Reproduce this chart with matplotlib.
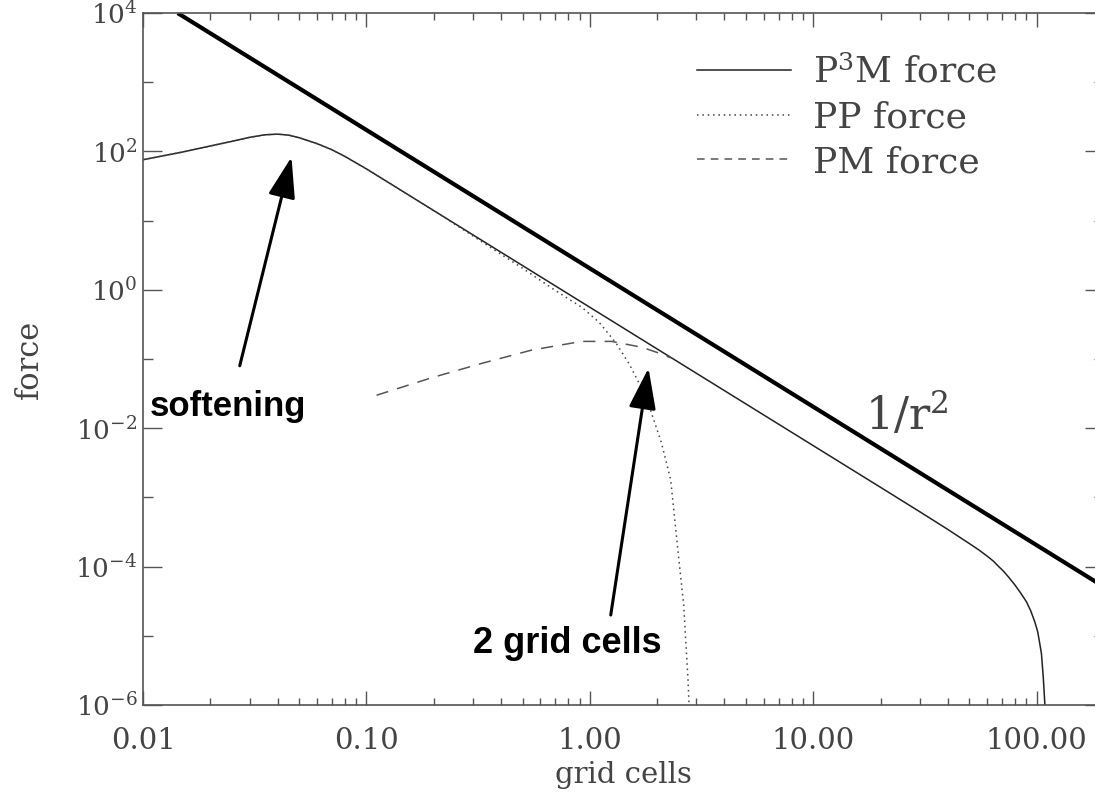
import matplotlib.pyplot as plt
from matplotlib.lines import Line2D
from matplotlib.ticker import FixedLocator, NullFormatter

plt.rcParams['font.family'] = 'DejaVu Serif'
plt.rcParams['mathtext.fontset'] = 'dejavuserif'

# pure 1/r^2 law
r_inv = [0.0143, 200.0]
f_inv = [1.0e4, 5.1e-5]

# total P3M force
r_p3m = [0.010, 0.015, 0.020, 0.025, 0.030, 0.035, 0.040, 0.045, 0.050, 0.060,
         0.070, 0.080, 0.10, 0.20, 0.50, 1.0, 2.0, 5.0, 10.0, 20.0, 30.0, 40.0,
         50.0, 55.0, 60.0, 64.0, 67.0, 71.0, 75.0, 80.0, 85.0, 90.0, 94.0, 98.0,
         101.0, 103.0, 105.0, 107.0, 108.0, 108.8]
f_p3m = [76, 98, 120, 140, 160, 174, 178, 172, 158, 130,
         106, 85, 56, 14, 2.24, 0.56, 0.14, 0.0224, 5.6e-3, 1.4e-3, 6.2e-4, 3.45e-4,
         2.15e-4, 1.75e-4, 1.42e-4, 1.2e-4, 1.03e-4, 8.6e-5, 7.0e-5, 5.4e-5, 4.1e-5, 3.1e-5, 2.3e-5, 1.6e-5,
         1.15e-5, 8e-6, 5.5e-6, 2.5e-6, 1.5e-6, 1e-6]

# short-range PP part
r_pp = [0.010, 0.015, 0.020, 0.025, 0.030, 0.035, 0.040, 0.045, 0.050, 0.060,
        0.070, 0.080, 0.10, 0.20, 0.30, 0.50, 0.70, 0.92, 1.10, 1.31, 1.50, 1.66,
        1.85, 2.09, 2.30, 2.50, 2.63, 2.75, 2.78]
f_pp = [76, 98, 120, 140, 160, 174, 178, 172, 158, 130,
        106, 85, 56, 14, 6.0, 2.05, 0.98, 0.56, 0.34, 0.17, 0.085, 0.045,
        0.020, 6.2e-3, 1.8e-3, 1.3e-4, 2.8e-5, 2.3e-6, 1e-6]

# long-range PM part
r_pm = [0.111, 0.197, 0.33, 0.55, 0.92, 1.25, 1.71, 2.1, 2.3]
f_pm = [0.030, 0.054, 0.087, 0.135, 0.18, 0.18, 0.148, 0.118, 0.104]

xticks = [0.01, 0.1, 1, 10, 100]
xticklabels = ['0.01', '0.10', '1.00', '10.00', '100.00']
yticks = [1e-6, 1e-4, 1e-2, 1e0, 1e2, 1e4]
yticklabels = ['$10^{-6}$', '$10^{-4}$', '$10^{-2}$', '$10^{0}$', '$10^{2}$', '$10^{4}$']

grey = '#555555'

fig = plt.figure(figsize=(10.95, 7.92), dpi=100)
ax = fig.add_axes([0.1306, 0.1098, 0.8776, 0.8737])

ax.plot(r_inv, f_inv, color='black', lw=3.0, solid_capstyle='butt')
ax.plot(r_p3m, f_p3m, color='#222222', lw=1.1)
ax.plot(r_pp, f_pp, color='#444444', lw=1.1, linestyle=(0, (1, 2.5)))
ax.plot(r_pm, f_pm, color='#555555', lw=1.1, linestyle=(0, (8, 6)))

ax.set_xscale('log')
ax.set_yscale('log')
ax.set_xlim(0.01, 200)
ax.set_ylim(1e-6, 1e4)

ax.set_xticks(xticks)
ax.set_xticklabels(xticklabels)
ax.xaxis.set_minor_locator(FixedLocator(
    [m * 10.0 ** e for e in range(-2, 3) for m in range(2, 10) if m * 10.0 ** e <= 200]))
ax.xaxis.set_minor_formatter(NullFormatter())
ax.set_yticks(yticks)
ax.set_yticklabels(yticklabels)
ax.yaxis.set_minor_locator(FixedLocator([1e-5, 1e-3, 1e-1, 1e1, 1e3]))
ax.yaxis.set_minor_formatter(NullFormatter())

ax.tick_params(which='both', direction='in', top=True, right=True, colors=grey,
               width=1.0, labelcolor='#444444')
ax.tick_params(axis='x', which='major', length=10, pad=16, labelsize=21)
ax.tick_params(axis='x', which='minor', length=5)
ax.tick_params(axis='y', which='major', length=14, pad=4, labelsize=19)
ax.tick_params(axis='y', which='minor', length=7)
for sp in ax.spines.values():
    sp.set_color(grey)
    sp.set_linewidth(1.2)

ax.set_xlabel('grid cells', fontsize=21, color='#444444', labelpad=4)
ax.set_ylabel('force', fontsize=22, color='#444444', labelpad=22)

handles = [Line2D([], [], color='#222222', lw=1.1),
           Line2D([], [], color='#444444', lw=1.1, linestyle=(0, (1, 2.5))),
           Line2D([], [], color='#555555', lw=1.1, linestyle=(0, (5, 4)))]
ax.legend(handles, ['P$^3$M force', 'PP force', 'PM force'], loc='upper left',
          bbox_to_anchor=(0.5765, 0.94), frameon=False, fontsize=26,
          handlelength=2.6, handletextpad=0.6, labelspacing=0.3,
          borderpad=0, borderaxespad=0, labelcolor='#444444')

ax.text(17, 0.0155, '$1/\\mathrm{r}^2$', fontsize=32, color='#444444',
        ha='left', va='center')

arrow = dict(arrowstyle='-|>,head_length=0.9,head_width=0.3', lw=2.2,
             color='black', mutation_scale=28, shrinkA=0, shrinkB=0)
ax.annotate('', xy=(0.0462, 83), xytext=(0.0271, 0.080), arrowprops=arrow)
ax.text(0.024, 0.0206, 'softening', family='Liberation Sans', fontweight='bold',
        fontsize=25, color='black', ha='center', va='center')
ax.annotate('', xy=(1.83, 0.074), xytext=(1.24, 2.0e-5), arrowprops=arrow)
ax.text(0.789, 7.8e-6, '2 grid cells', family='Liberation Sans', fontweight='bold',
        fontsize=26, color='black', ha='center', va='center')

fig.savefig('out.png', dpi=100)
